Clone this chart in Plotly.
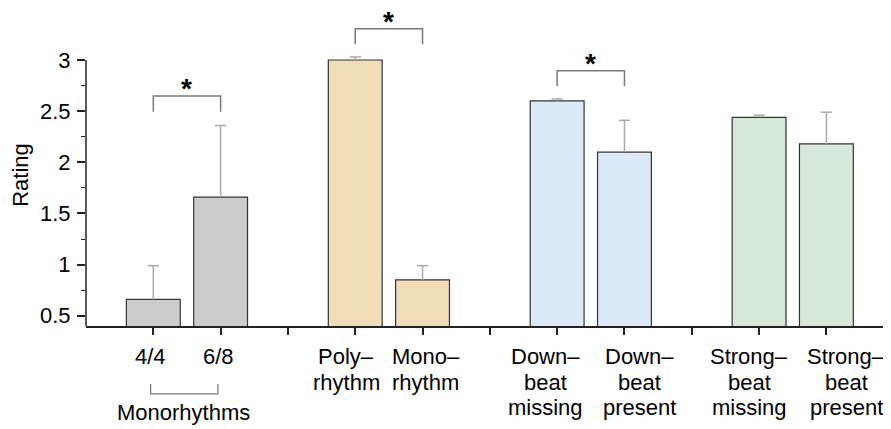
import plotly.graph_objects as go

# categories placed on a numeric axis, with empty slots between groups
positions = [1, 2, 4, 5, 7, 8, 10, 11]
labels = ["4/4", "6/8", "Poly–<br>rhythm", "Mono–<br>rhythm",
          "Down–<br>beat<br>missing", "Down–<br>beat<br>present",
          "Strong–<br>beat<br>missing", "Strong–<br>beat<br>present"]
ratings = [0.66, 1.66, 3.0, 0.85, 2.60, 2.10, 2.44, 2.18]
errors = [0.33, 0.70, 0.03, 0.14, 0.02, 0.31, 0.02, 0.31]
colors = ["#cccccc", "#cccccc", "#f2ddb9", "#f2ddb9",
          "#dce9f9", "#dce9f9", "#d6e8da", "#d6e8da"]

# significance brackets: (left, right, bracket top, leg bottom)
sig_pairs = [(1, 2, 2.648, 2.495), (4, 5, 3.306, 3.153), (7, 8, 2.896, 2.746)]

y_ticks = [0.5, 1, 1.5, 2, 2.5, 3]
y_minor = [0.75, 1.25, 1.75, 2.25, 2.75]

font = "Liberation Sans, Arial, sans-serif"

# horizontal nudges of the category labels (px), as placed in the original
label_shift = [-3, -2, -9, 3, -12, 15, -10, 20]

fig = go.Figure()
# whiskers without caps (so no cap sits on the bar top)
fig.add_trace(go.Bar(
    x=positions, y=ratings, width=0.8,
    marker=dict(color=colors, line=dict(color="#333333", width=1.2)),
    error_y=dict(type="data", array=errors, arrayminus=[0] * len(errors),
                 symmetric=False, color="#aaaaaa", thickness=1.5, width=0),
))
# top caps of the error bars
fig.add_trace(go.Scatter(
    x=positions, y=[r + e for r, e in zip(ratings, errors)], mode="markers",
    marker=dict(symbol="line-ew", size=8, line=dict(color="#aaaaaa", width=1.5)),
    hoverinfo="skip",
))

for x0, x1, top, leg in sig_pairs:
    fig.add_shape(type="path",
                  path=f"M {x0},{leg} L {x0},{top} L {x1},{top} L {x1},{leg}",
                  xref="x", yref="y", line=dict(color="#7a7a7a", width=1.5))
    fig.add_annotation(x=(x0 + x1) / 2, y=top, text="<b>*</b>", showarrow=False,
                       yanchor="bottom", yshift=-10,
                       font=dict(size=28, color="black", family=font))

# category labels, one annotation per line so the line spacing is tight
for pos, lab, dx in zip(positions, labels, label_shift):
    for i, line in enumerate(lab.split("<br>")):
        fig.add_annotation(x=pos, y=-0.1026 - 0.0844 * i, xref="x", yref="paper",
                           text=line, showarrow=False, xshift=dx,
                           xanchor="center", yanchor="middle",
                           font=dict(size=22, color="black", family=font))

# y axis line only up to 3
fig.add_shape(type="line", xref="paper", yref="y", x0=0, x1=0, y0=0.4, y1=3,
              line=dict(color="#222222", width=1.5))

# Monorhythms group bracket
fig.add_shape(type="path", xref="x", yref="paper",
              path="M 0.96,-0.192 L 0.96,-0.225 L 1.96,-0.225 L 1.96,-0.192",
              line=dict(color="#777777", width=1.2))
fig.add_annotation(x=1.5, y=-0.288, xref="x", yref="paper", text="Monorhythms",
                   showarrow=False, xshift=-3, xanchor="center", yanchor="middle",
                   font=dict(size=22, color="black", family=font))

fig.update_xaxes(range=[0, 11.96], showgrid=False, zeroline=False, automargin=False,
                 showline=True, linecolor="#222222", linewidth=1.5,
                 ticks="outside", ticklen=7, tickwidth=1.5, tickcolor="#222222",
                 tickvals=[1, 2, 3, 4, 5, 6, 7, 8, 9, 10, 11], showticklabels=False)
fig.update_yaxes(range=[0.4, 3.352], showgrid=False, zeroline=False, showline=False,
                 automargin=False,
                 ticks="outside", ticklen=8, tickwidth=1.5, tickcolor="#222222",
                 ticklabelstandoff=2,
                 tickvals=y_ticks, ticktext=[str(v) for v in y_ticks],
                 minor=dict(tickvals=y_minor, ticks="outside", ticklen=4,
                            tickwidth=1.2, tickcolor="#222222"),
                 tickfont=dict(size=22, color="black", family=font),
                 title=dict(text="Rating", font=dict(size=22, color="black", family=font),
                            standoff=6))

# the page adds an 8px body margin, so the figure is 8px smaller than the window
fig.update_layout(
    width=883, height=421,
    margin=dict(l=78, r=0, t=16, b=103),
    plot_bgcolor="white", paper_bgcolor="white",
    showlegend=False,
)
fig.write_html("out.html")
